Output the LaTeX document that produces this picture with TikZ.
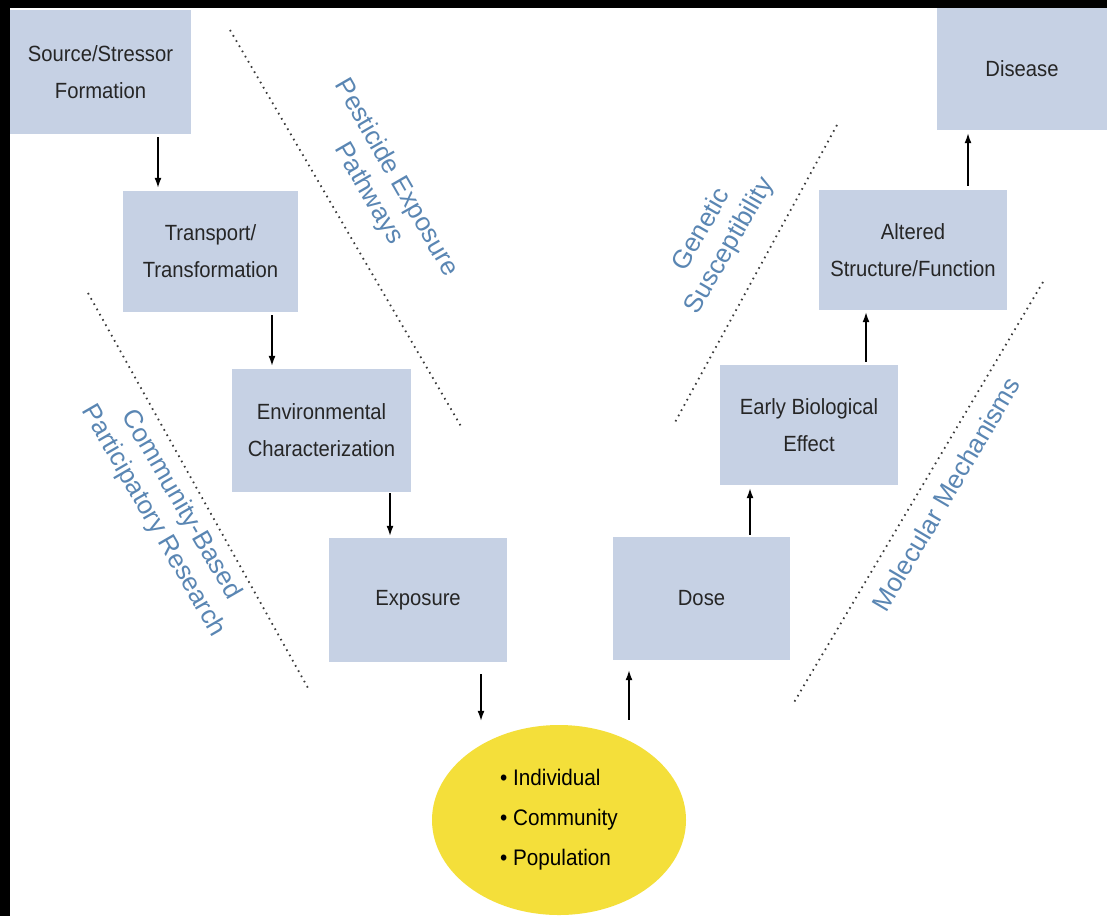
\documentclass[tikz,border=0pt]{standalone}
\usepackage{fontspec}
\setmainfont{Liberation Sans}
\newfontfamily\boxfont[FakeStretch=0.92]{Liberation Sans}
\usetikzlibrary{arrows.meta,shapes.geometric}

\definecolor{boxfill}{HTML}{C6D1E4}
\definecolor{boxtext}{HTML}{262626}
\definecolor{lanetext}{HTML}{5A86B3}
\definecolor{popfill}{HTML}{F4DF3A}
\definecolor{dotline}{HTML}{3A3A3A}

\tikzset{
  stagebox/.style={draw=none, fill=boxfill, text=boxtext, align=center,
    inner sep=0pt, font=\boxfont\fontsize{22}{37}\selectfont},
  lanelabel/.style={text=lanetext, align=center, inner sep=0pt,
    font=\fontsize{26}{32}\selectfont},
  divider/.style={draw=dotline, line width=1.8pt,
    dash pattern=on 1.6pt off 4.4pt},
  flow/.style={draw=black, line width=1.4pt,
    -{Latex[length=10pt,width=7pt]}},
}

\begin{document}
\begin{tikzpicture}[x=1pt,y=-1pt]
  % page frame
  \useasboundingbox (0,0) rectangle (1107,916);
  \fill[black] (0,0) rectangle (1107,916);
  \fill[white] (10,8) rectangle (1107,916);

  % exposure side (descending)
  \node[stagebox, minimum width=181pt, minimum height=124pt] (src)   at (100.5,72)  {Source/Stressor\\Formation};
  \node[stagebox, minimum width=175pt, minimum height=121pt] (trans) at (210.5,251.5) {Transport/\\Transformation};
  \node[stagebox, minimum width=179pt, minimum height=123pt] (env)   at (321.5,430.5) {Environmental\\Characterization};
  \node[stagebox, minimum width=178pt, minimum height=124pt] (exp)   at (418,600)   {Exposure};

  % effect side (ascending)
  \node[stagebox, minimum width=177pt, minimum height=123pt] (dose)  at (701.5,598.5) {Dose};
  \node[stagebox, minimum width=178pt, minimum height=120pt] (early) at (809,425)   {Early Biological\\Effect};
  \node[stagebox, minimum width=188pt, minimum height=120pt] (alt)   at (913,250)   {Altered\\Structure/Function};
  \node[stagebox, minimum width=170pt, minimum height=122pt] (dis)   at (1022,69)   {Disease};

  % population levels
  \node[ellipse, fill=popfill, draw=none, minimum width=254pt, minimum height=190pt,
        inner sep=0pt, align=left, text=black,
        font=\boxfont\fontsize{22.5}{40}\selectfont] (pop) at (559,820)
        {\textbullet\ Individual\\\textbullet\ Community\\\textbullet\ Population};

  % arrow columns
  \coordinate (k1) at (158,0);
  \coordinate (k2) at (272,0);
  \coordinate (k3) at (390,0);
  \coordinate (k4) at (481,0);
  \coordinate (k5) at (629,0);
  \coordinate (k6) at (750,0);
  \coordinate (k7) at (866,0);
  \coordinate (k8) at (968,0);

  \draw[flow, shorten <=3pt, shorten >=3pt] (src.south -| k1)   -- (trans.north -| k1);
  \draw[flow, shorten <=3pt, shorten >=3pt] (trans.south -| k2) -- (env.north -| k2);
  \draw[flow, shorten <=1pt, shorten >=2pt] (env.south -| k3)   -- (exp.north -| k3);
  \draw[flow, shorten <=12pt, shorten >=4pt] (exp.south -| k4)  -- (pop.north -| k4);
  \draw[flow, shorten <=5pt, shorten >=10pt] (pop.north -| k5)  -- (dose.south -| k5);
  \draw[flow, shorten <=2pt, shorten >=3pt] (dose.north -| k6)  -- (early.south -| k6);
  \draw[flow, shorten <=3pt, shorten >=2pt] (early.north -| k7) -- (alt.south -| k7);
  \draw[flow, shorten <=4pt, shorten >=3pt] (alt.north -| k8)   -- (dis.south -| k8);

  % dotted dividers
  \coordinate (pA) at (230,30);   \coordinate (pB) at (462,428);
  \coordinate (cA) at (88,293);   \coordinate (cB) at (308,688);
  \coordinate (gA) at (837,125);  \coordinate (gB) at (674,424);
  \coordinate (mA) at (1043,282); \coordinate (mB) at (793,704);
  \draw[divider] (pA) -- (pB);
  \draw[divider] (cA) -- (cB);
  \draw[divider] (gA) -- (gB);
  \draw[divider] (mA) -- (mB);

  % divider captions
  \node[lanelabel, rotate=-60] (lpest) at (382,186) {Pesticide Exposure\\Pathways};
  \node[lanelabel, rotate=-60] (lcbpr) at (167,513) {Community-Based\\Participatory Research};
  \node[lanelabel, rotate=60]  (lgen)  at (716,238) {Genetic\\Susceptibility};
  \node[lanelabel, rotate=59.5](lmol)  at (946,494) {Molecular Mechanisms};
\end{tikzpicture}
\end{document}
